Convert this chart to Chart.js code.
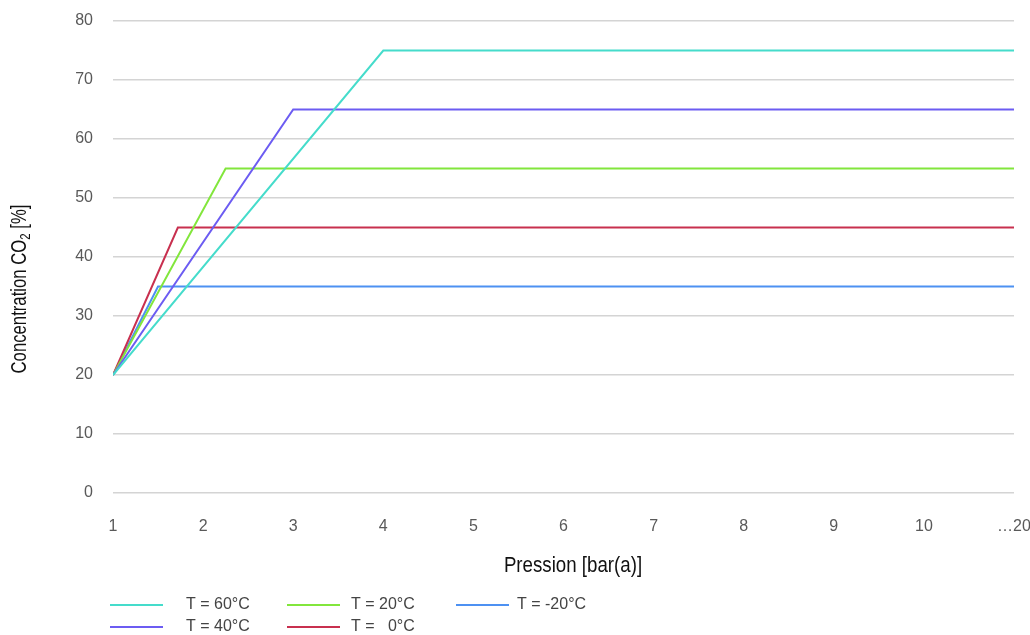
<!DOCTYPE html>
<html>
<head>
<meta charset="utf-8">
<script src="https://cdn.jsdelivr.net/npm/chart.js@4.4.1/dist/chart.umd.min.js"></script>
<style>
  html, body { margin: 0; padding: 0; background: #fff; }
  #wrap { width: 1030px; height: 635px; position: relative; }
</style>
</head>
<body>
<div id="wrap"><canvas id="co2Chart" width="1030" height="635"></canvas></div>
<script>
// --- Data ---
const seriesLabels = ["T = 60°C", "T = 40°C", "T = 20°C", "T =   0°C", "T = -20°C"];
const seriesColors = ["#45dccb", "#6c5cf2", "#82e63c", "#c8304f", "#4d91f2"];
const startPressure = 1;
const startConc = 20;
const kneePressure = [4, 3, 2.25, 1.72, 1.5];   // where each curve levels off
const plateauConc = [75, 65, 55, 45, 35];
const endPressure = 11;                         // last tick, labelled "…20"
const xTickLabels = ["1", "2", "3", "4", "5", "6", "7", "8", "9", "10", "…20"];
const yTicks = [0, 10, 20, 30, 40, 50, 60, 70, 80];

// legend grid: row by row, index into the series arrays
const legendRows = [[0, 2, 4], [1, 3]];

const baseFont = "'Liberation Sans', Arial, sans-serif";

const datasets = seriesLabels.map((label, i) => ({
  label,
  data: [
    { x: startPressure, y: startConc },
    { x: kneePressure[i], y: plateauConc[i] },
    { x: endPressure, y: plateauConc[i] }
  ],
  borderColor: seriesColors[i],
  backgroundColor: seriesColors[i],
  borderWidth: 2,
  pointRadius: 0,
  tension: 0,
  showLine: true
}));

// --- Axis titles and legend drawn on the canvas ---
const decorations = {
  id: "decorations",
  afterDraw(chart) {
    const ctx = chart.ctx;

    // x title, squeezed to a narrow face
    ctx.save();
    ctx.fillStyle = "#111";
    ctx.textBaseline = "middle";
    ctx.textAlign = "center";
    ctx.font = "22px " + baseFont;
    ctx.translate(573, 566);
    ctx.scale(0.85, 1);
    ctx.fillText("Pression [bar(a)]", 0, 0);
    ctx.restore();

    // y title with subscript
    ctx.save();
    ctx.fillStyle = "#111";
    ctx.textBaseline = "middle";
    ctx.translate(20, 289);
    ctx.rotate(-Math.PI / 2);
    ctx.scale(0.76, 1);
    const partA = "Concentration CO";
    const partB = "2";
    const partC = " [%]";
    ctx.font = "22px " + baseFont;
    const wA = ctx.measureText(partA).width;
    const wC = ctx.measureText(partC).width;
    ctx.font = "15px " + baseFont;
    const wB = ctx.measureText(partB).width;
    const x0 = -(wA + wB + wC) / 2;
    ctx.textAlign = "left";
    ctx.font = "22px " + baseFont;
    ctx.fillText(partA, x0, 0);
    ctx.font = "15px " + baseFont;
    ctx.fillText(partB, x0 + wA, 6);
    ctx.font = "22px " + baseFont;
    ctx.fillText(partC, x0 + wA + wB, 0);
    ctx.restore();

    // legend
    ctx.save();
    const colLine = [110, 287, 456];
    const colText = [186, 351, 517];
    const rowY = [605, 627];
    ctx.font = "16px " + baseFont;
    ctx.textBaseline = "middle";
    ctx.textAlign = "left";
    legendRows.forEach((row, r) => {
      row.forEach((idx, c) => {
        ctx.strokeStyle = seriesColors[idx];
        ctx.lineWidth = 2;
        ctx.beginPath();
        ctx.moveTo(colLine[c], rowY[r]);
        ctx.lineTo(colLine[c] + 53, rowY[r]);
        ctx.stroke();
        ctx.fillStyle = "#444";
        ctx.fillText(seriesLabels[idx], colText[c], rowY[r]);
      });
    });
    ctx.restore();
  }
};

const chart = new Chart(document.getElementById("co2Chart"), {
  type: "scatter",
  data: { datasets },
  options: {
    responsive: false,
    animation: false,
    layout: { padding: { top: 21, right: 16, left: 0, bottom: 0 } },
    plugins: {
      legend: { display: false },
      tooltip: { enabled: false }
    },
    scales: {
      x: {
        type: "linear",
        min: startPressure,
        max: endPressure,
        afterFit(scale) {
          scale.height = 142;
          scale.paddingLeft = 0;
          scale.paddingRight = 0;
        },
        afterBuildTicks(scale) {
          scale.ticks = xTickLabels.map((_, i) => ({ value: startPressure + i }));
        },
        ticks: {
          padding: 16,
          color: "#595959",
          font: { family: baseFont, size: 16 },
          callback: (value, i) => xTickLabels[i]
        },
        grid: { display: false },
        border: { display: false }
      },
      y: {
        min: 0,
        max: 80,
        afterFit(scale) {
          scale.width = 113;
          scale.paddingTop = 0;
          scale.paddingBottom = 0;
        },
        afterBuildTicks(scale) {
          scale.ticks = yTicks.map(v => ({ value: v }));
        },
        ticks: {
          padding: 20,
          color: "#595959",
          font: { family: baseFont, size: 16 }
        },
        grid: { color: "#d4d4d4", lineWidth: 1.5, drawTicks: false },
        border: { display: false }
      }
    }
  },
  plugins: [decorations]
});
</script>
</body>
</html>
